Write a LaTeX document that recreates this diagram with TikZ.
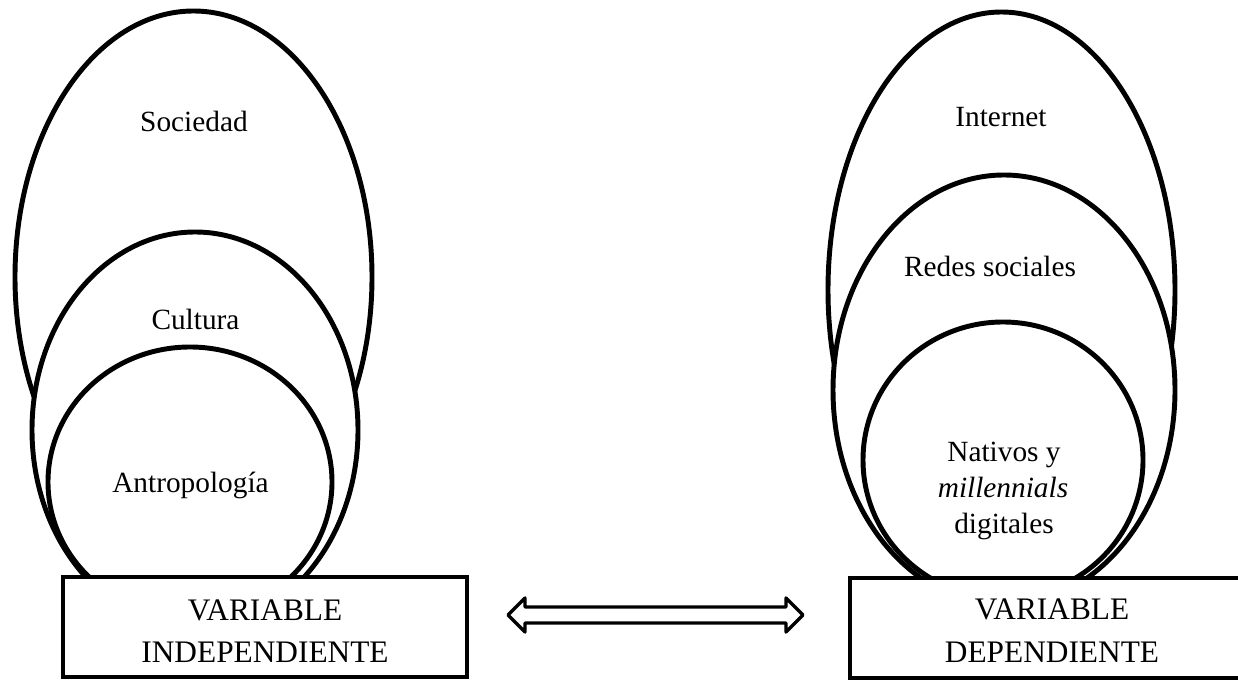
\documentclass[tikz,border=0pt]{standalone}
\usepackage{fontspec}
\setmainfont{Liberation Serif}
\usetikzlibrary{shapes.geometric}
\begin{document}
\begin{tikzpicture}[x=0.75pt,y=-0.75pt,
  ring/.style={ellipse, draw, fill=white, line width=3.7pt, inner sep=0pt},
  lbl/.style={anchor=base, inner sep=0pt, font=\fontsize{22}{26}\selectfont},
  varbox/.style={rectangle, draw, fill=white, line width=3pt, inner sep=0pt,
    outer sep=0pt, anchor=north west, minimum width=303pt, minimum height=75pt},
  boxtxt/.style={anchor=base, inner sep=0pt, font=\fontsize{23.5}{28}\selectfont},
  hollowarrow/.style={draw, fill=white, line width=2.6pt, line join=round}]
\useasboundingbox (0,0) rectangle (1238,680);
\begin{scope}
\clip (-10,-10) rectangle (1238,690);

% left group: nested ovals resting on the box
\node[ring, minimum width=267.75pt, minimum height=399pt] (soc) at (193.5,277) {};
\node[ring, minimum width=244.5pt, minimum height=297pt] (cul) at (195,430) {};
\node[ring, minimum width=213pt, minimum height=202.5pt] (ant) at (190,482) {};
\node[lbl] (socl) at (194,132) {Sociedad};
\node[lbl] (cull) at (195.5,330) {Cultura};
\node[lbl] (antl) at (190.5,492) {Antropología};

% right group
\node[ring, minimum width=260.25pt, minimum height=417pt] (int) at (1001.5,290) {};
\node[ring, minimum width=256.5pt, minimum height=322.5pt] (red) at (1004,390) {};
\node[ring, minimum width=210pt, minimum height=207pt] (nat) at (1003,460) {};
\node[lbl] (intl) at (1001,127) {Internet};
\node[lbl] (redl) at (990,277) {Redes sociales};
\node[lbl] (natl1) at (1004,462) {Nativos y};
\node[lbl] (natl2) at (1003,497) {\itshape millennials};
\node[lbl] (natl3) at (1004,533) {digitales};

% variable boxes (the right one runs on past the page edge)
\node[varbox] (vind) at (63,577) {};
\node[boxtxt] (vind1) at (265,620) {VARIABLE};
\node[boxtxt] (vind2) at (265,662) {INDEPENDIENTE};
\node[varbox, minimum width=360pt] (vdep) at (850,578) {};
\node[boxtxt] (vdep1) at (1052,619) {VARIABLE};
\node[boxtxt] (vdep2) at (1052,662) {DEPENDIENTE};

% hollow double-headed arrow between the boxes
\draw[hollowarrow] (508,615) -- (525,598) -- (525,607) -- (786,607) -- (786,598)
  -- (803,615) -- (786,632) -- (786,623) -- (525,623) -- (525,632) -- cycle;
\end{scope}
\end{tikzpicture}
\end{document}
